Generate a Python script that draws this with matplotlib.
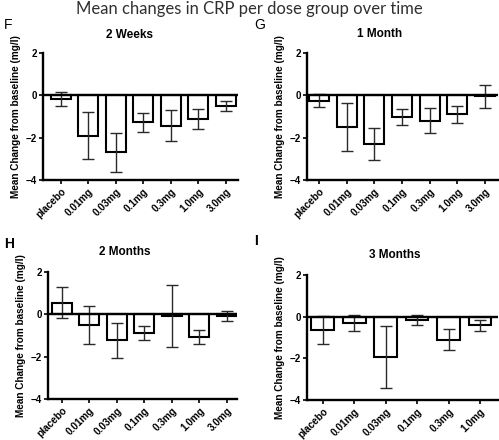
import numpy as np
import matplotlib.pyplot as plt

doses7 = ['placebo', '0.01mg', '0.03mg', '0.1mg', '0.3mg', '1.0mg', '3.0mg']
doses6 = doses7[:6]

weeks2_mean = [-0.18, -1.9, -2.7, -1.28, -1.43, -1.13, -0.5]
weeks2_err = [0.33, 1.1, 0.9, 0.43, 0.73, 0.48, 0.25]

month1_mean = [-0.25, -1.5, -2.3, -1.02, -1.2, -0.9, -0.05]
month1_err = [0.3, 1.15, 0.75, 0.38, 0.6, 0.4, 0.55]

months2_mean = [0.55, -0.5, -1.23, -0.87, -0.07, -1.08, -0.07]
months2_err = [0.72, 0.88, 0.83, 0.33, 1.47, 0.33, 0.23]

months3_mean = [-0.62, -0.3, -1.93, -0.15, -1.1, -0.42]
months3_err = [0.67, 0.4, 1.48, 0.25, 0.5, 0.28]

fig = plt.figure(figsize=(4.99, 4.40), dpi=100)
W, H = 499, 440

fig.text(0.5, 1 - 9 / H, 'Mean changes in CRP per dose group over time',
         ha='center', va='center', fontsize=12, family='Lato', color='#303030')

panels = [
    # letter, title, labels, means, errs, rect(px: left, right, top, bottom), xlim, letter pos, title pos
    ('F', '2 Weeks', doses7, weeks2_mean, weeks2_err, (43, 238, 53, 180), (-0.65, 6.44), (4, 25), (130, 35)),
    ('G', '1 Month', doses7, month1_mean, month1_err, (307, 498, 53, 180), (-0.43, 6.47), (254, 25), (380, 34)),
    ('H', '2 Months', doses7, months2_mean, months2_err, (48, 237, 272, 399), (-0.5, 6.37), (4, 244), (125, 252)),
    ('I', '3 Months', doses6, months3_mean, months3_err, (307, 498, 275, 400), (-0.5, 5.57), (254, 241), (395, 255)),
]

for letter, title, labels, means, errs, rect, xlim, lpos, tpos in panels:
    l, r, t, b = rect
    ax = fig.add_axes([l / W, 1 - b / H, (r - l) / W, (b - t) / H])
    x = np.arange(len(labels))
    ax.bar(x, means, width=0.72, color='white', edgecolor='black', linewidth=1.5, zorder=2)
    ax.errorbar(x, means, yerr=errs, fmt='none', ecolor='#2a2a2a', elinewidth=1.0,
                capsize=4, capthick=1.0, zorder=3)
    ax.axhline(0, color='black', linewidth=1.7, zorder=4)
    ax.set_xlim(*xlim)
    ax.set_ylim(-4, 2)
    ax.set_yticks([-4, -2, 0, 2])
    ax.set_xticks(x)
    ax.set_xticklabels(labels, rotation=45, ha='right', rotation_mode='anchor',
                       fontsize=7.2, fontweight='bold', family='Liberation Sans')
    for lab in ax.get_yticklabels():
        lab.set_fontsize(7)
        lab.set_fontweight('bold')
        lab.set_family('Liberation Sans')
    ax.spines['top'].set_visible(False)
    ax.spines['right'].set_visible(False)
    ax.spines['left'].set_linewidth(1.7)
    ax.spines['bottom'].set_linewidth(1.7)
    ax.tick_params(axis='both', length=3, width=1.2, pad=1.5)
    ax.set_ylabel('Mean Change from baseline (mg/l)', fontsize=7.2, fontweight='bold',
                  family='Liberation Sans', labelpad=3)
    fig.text(lpos[0] / W, 1 - lpos[1] / H, letter, fontsize=10, family='Liberation Sans',
             fontweight='bold' if letter in 'HI' else 'normal', ha='left', va='center')
    fig.text(tpos[0] / W, 1 - tpos[1] / H, title, fontsize=8.5, fontweight='bold',
             family='Liberation Sans', ha='center', va='center')

fig.savefig('out.png', dpi=100)
